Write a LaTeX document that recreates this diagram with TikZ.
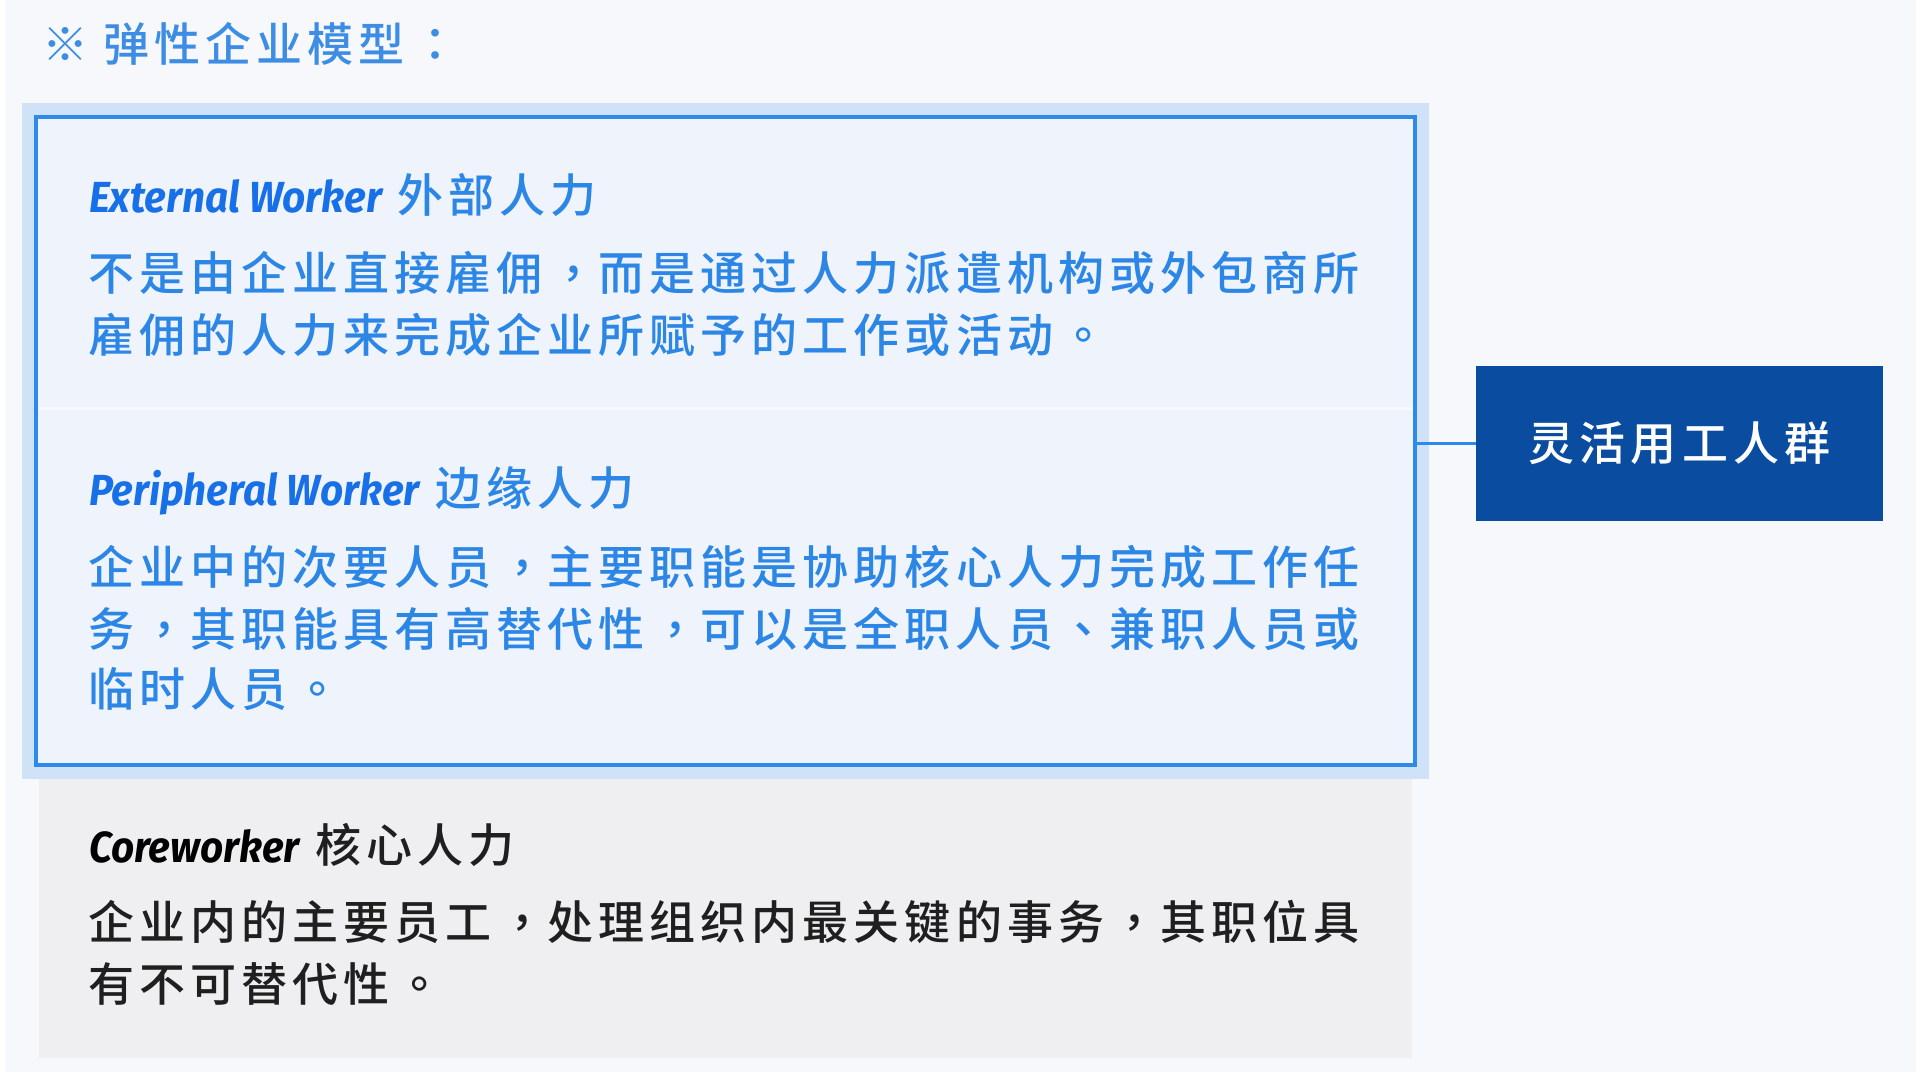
\documentclass[tikz,border=0pt]{standalone}
\usepackage{fontspec}
\newfontfamily\cjk[LetterSpace=11,UprightFont=* Medium]{Noto Sans CJK SC}
\newfontfamily\tcp[UprightFont=* Medium]{Noto Sans CJK TC}
\newfontfamily\headfont[FakeStretch=0.93]{Fira Sans}
\definecolor{pagebg}{HTML}{F7F8FB}
\definecolor{glowc}{HTML}{CFE2F8}
\definecolor{innerfill}{HTML}{EFF4FC}
\definecolor{borderc}{HTML}{2D89EC}
\definecolor{sepc}{HTML}{F7F9FE}
\definecolor{grayfill}{HTML}{EFEFF2}
\definecolor{titlec}{HTML}{3D8DE5}
\definecolor{bodyc}{HTML}{2C86E6}
\definecolor{headc}{HTML}{1870E8}
\definecolor{darkc}{HTML}{1F1F1F}
\definecolor{boxc}{HTML}{0A4DA0}
\tikzset{
  rectbox/.style={anchor=north west, inner sep=0pt, outer sep=0pt},
  glowbox/.style={rectbox, fill=glowc},
  innerbox/.style={rectbox, fill=innerfill, draw=borderc, line width=4pt},
  corebox/.style={rectbox, fill=grayfill},
  groupbox/.style={inner sep=0pt, outer sep=0pt, fill=boxc, text=white,
    font=\fontsize{46}{55}\cjk},
  line/.style={anchor=base west, inner sep=0pt, outer sep=0pt,
    font=\fontsize{46}{55}\cjk},
  bluetext/.style={line, text=bodyc},
  darktext/.style={line, text=darkc},
  titletext/.style={line, text=titlec},
  conn/.style={draw=borderc, line width=3pt},
  sepline/.style={draw=sepc, line width=3pt}
}
\newcommand{\headlat}[1]{{\headfont\bfseries\itshape\fontsize{43.5}{50}\selectfont #1}}
\newcommand{\pu}[1]{\hspace{5.06pt}\makebox[51.06pt][c]{\tcp #1}}
\begin{document}
\begin{tikzpicture}[x=1pt,y=-1pt]
\useasboundingbox (0,0) rectangle (1920,1080);
\fill[white] (0,0) rectangle (1920,1080);
\fill[pagebg] (5,0) rectangle (1916,1072);
% boxes
\node[corebox, minimum width=1373pt, minimum height=280pt] (core) at (39,778) {};
\node[glowbox, minimum width=1407pt, minimum height=676pt] (glow) at (22,103) {};
\node[innerbox, minimum width=1379pt, minimum height=648pt] (inner) at (36,117) {};
\draw[sepline] (39,408) -- (1412,408);
\node[groupbox, minimum width=407pt, minimum height=155pt, anchor=north west] (rbox) at (1476,366) {灵活用工人群};
\draw[conn] (rbox.west) -- (rbox.west -| inner.east);
% title
\node[titletext] (title) at (42,61.5) {※ 弹性企业模型\pu{：}};
% external
\node[bluetext] (exth) at (89,212) {\textcolor{headc}{\headlat{External Worker}} 外部人力};
\node[bluetext] (ext1) at (88,290.5) {不是由企业直接雇佣\pu{，}而是通过人力派遣机构或外包商所};
\node[bluetext] (ext2) at (88,352.5) {雇佣的人力来完成企业所赋予的工作或活动\pu{。}};
% peripheral
\node[bluetext] (perh) at (89,505) {\textcolor{headc}{\headlat{Peripheral Worker}} 边缘人力};
\node[bluetext] (per1) at (88,584.5) {企业中的次要人员\pu{，}主要职能是协助核心人力完成工作任};
\node[bluetext] (per2) at (88,646) {务\pu{，}其职能具有高替代性\pu{，}可以是全职人员\pu{、}兼职人员或};
\node[bluetext] (per3) at (88,706.5) {临时人员\pu{。}};
% core
\node[darktext] (coreh) at (89,862) {\textcolor{black}{\headlat{Coreworker}} 核心人力};
\node[darktext] (core1) at (88,939.5) {企业内的主要员工\pu{，}处理组织内最关键的事务\pu{，}其职位具};
\node[darktext] (core2) at (88,1001.5) {有不可替代性\pu{。}};
\end{tikzpicture}
\end{document}
